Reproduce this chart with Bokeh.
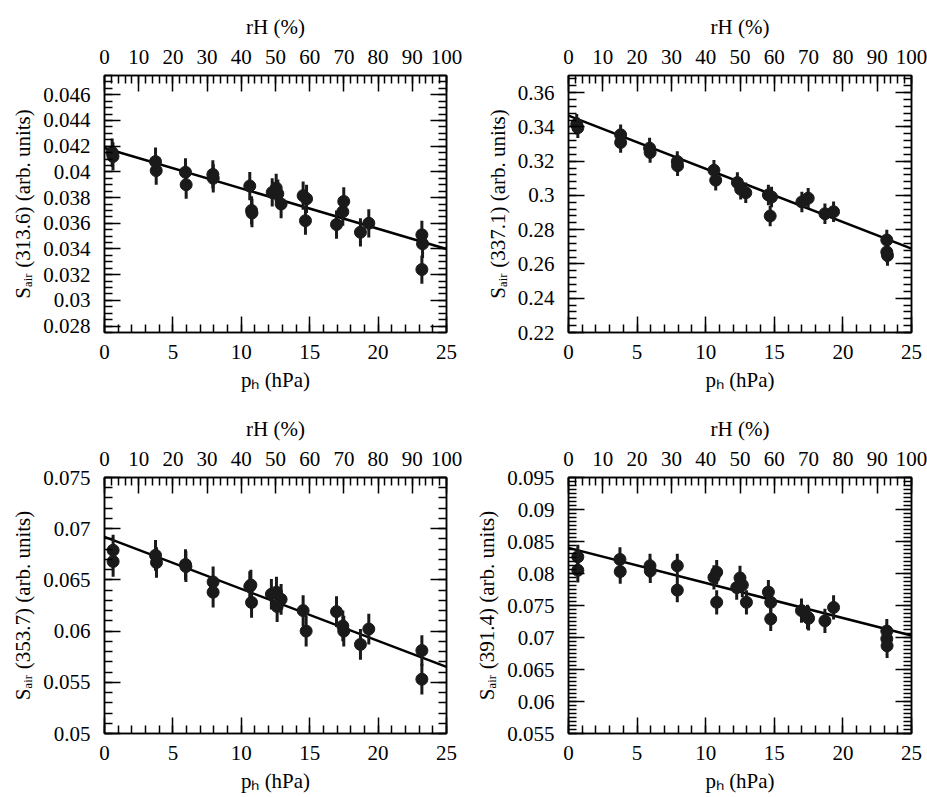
import numpy as np
from bokeh.plotting import figure
from bokeh.models import (Range1d, LinearAxis, SingleIntervalTicker,
                          CustomJSTickFormatter)
from bokeh.layouts import column, row
from bokeh.embed import file_html
from bokeh.resources import INLINE

FONT = "Liberation Serif"

# ---------------- data ----------------
fit_ph = [0, 25]

ph_1 = [0.56, 0.62, 3.73, 3.78, 5.92, 5.97, 7.92, 7.95, 10.62, 10.75, 10.78, 12.26, 12.55,
        12.67, 12.91, 14.52, 14.77, 14.69, 16.96, 17.42, 17.49, 18.71, 19.32, 23.2, 23.25, 23.2]
s_1 = [0.0415, 0.0412, 0.0408, 0.0401, 0.03997, 0.0390, 0.0398, 0.0395, 0.0389, 0.0370, 0.0368,
       0.0384, 0.03875, 0.0383, 0.0375, 0.03815, 0.0379, 0.0362, 0.0359, 0.0369, 0.0377, 0.0353,
       0.0360, 0.0351, 0.0344, 0.0324]
err_1 = 0.0011
fit_1 = [0.04186, 0.0340]

ph_2 = [0.6, 0.68, 3.8, 3.8, 5.91, 5.95, 7.93, 7.95, 10.6, 10.73, 12.31, 12.55, 12.92, 14.57,
        14.8, 14.7, 17.01, 17.47, 18.69, 19.32, 23.2, 23.2, 23.25]
s_2 = [0.3415, 0.3395, 0.3354, 0.3309, 0.3276, 0.3251, 0.3198, 0.3173, 0.3147, 0.3089, 0.3075,
       0.3036, 0.3016, 0.3003, 0.2991, 0.288, 0.2962, 0.2984, 0.2893, 0.2905, 0.274, 0.267, 0.265]
err_2 = 0.006
fit_2 = [0.3466, 0.2690]

ph_3 = [0.63, 0.63, 3.73, 3.8, 5.92, 5.95, 7.94, 7.94, 10.62, 10.7, 10.75, 12.2, 12.57, 12.91,
        12.62, 14.52, 14.74, 16.96, 17.42, 17.49, 18.71, 19.32, 23.2, 23.2]
s_3 = [0.0679, 0.0668, 0.0674, 0.0667, 0.0665, 0.0663, 0.0648, 0.0638, 0.06435, 0.0645, 0.0628,
       0.0636, 0.0638, 0.0631, 0.0624, 0.0620, 0.0600, 0.0619, 0.0605, 0.0600, 0.0587, 0.0602,
       0.0581, 0.0553]
err_3 = 0.0015
fit_3 = [0.0692, 0.0565]

ph_4 = [0.68, 0.68, 3.75, 3.77, 5.94, 5.96, 7.93, 7.93, 10.6, 10.8, 10.8, 12.26, 12.5, 12.67,
        12.97, 14.57, 14.74, 14.74, 16.98, 17.42, 17.5, 18.69, 19.32, 23.2, 23.2, 23.22]
s_4 = [0.0826, 0.0805, 0.0822, 0.0803, 0.0812, 0.0804, 0.0812, 0.0774, 0.0794, 0.0802, 0.0755,
       0.0778, 0.0793, 0.0782, 0.0755, 0.0771, 0.0755, 0.0729, 0.0742, 0.0732, 0.0730, 0.0726,
       0.0747, 0.0710, 0.0698, 0.0687]
err_4 = 0.0019
fit_4 = [0.0840, 0.0703]

wavelengths = ["313.6", "337.1", "353.7", "391.4"]
y_ranges = [(0.0275, 0.0475), (0.22, 0.37), (0.05, 0.0750001), (0.055, 0.0950001)]
y_major = [0.002, 0.02, 0.005, 0.005]
y_minor_n = [4, 5, 5, 8]

x_label = "p\u2095 (hPa)"
top_label = "rH (%)"
y_label_fmt = "S\u2090\u1d62\u1d63 ({}) (arb. units)"

FS = "21px"


def style_axis(ax, labels=True):
    ax.axis_line_color = "black"
    ax.axis_line_width = 1.5
    ax.major_tick_line_color = "black"
    ax.minor_tick_line_color = "black"
    ax.major_tick_line_width = 1.5
    ax.minor_tick_line_width = 1.5
    ax.major_tick_in = 16
    ax.major_tick_out = 0
    ax.minor_tick_in = 8
    ax.minor_tick_out = 0
    ax.major_label_text_font = FONT
    ax.major_label_text_font_size = FS
    ax.major_label_text_color = "black"
    ax.axis_label_text_font = FONT
    ax.axis_label_text_font_size = FS
    ax.axis_label_text_font_style = "normal"
    ax.axis_label_text_color = "black"
    if not labels:
        ax.formatter = CustomJSTickFormatter(code="return '';")
        ax.major_label_text_color = None
        ax.major_label_standoff = 0


def make_panel(idx, ph, s, err, fit, left_col, top_row):
    yr = y_ranges[idx]
    width = 464 if left_col else 463
    b_right = 18 if left_col else 16
    height = 402 if top_row else 395
    b_bottom = 70 if top_row else 64
    p = figure(width=width, height=height, x_range=Range1d(0, 25),
               y_range=Range1d(*yr), output_backend="svg", toolbar_location=None,
               tools="", x_axis_location=None, y_axis_location=None,
               min_border_left=104, min_border_right=b_right,
               min_border_top=75, min_border_bottom=b_bottom)
    p.grid.visible = False
    p.outline_line_color = "black"
    p.outline_line_width = 1.5
    p.background_fill_color = "white"
    p.border_fill_color = "white"
    p.extra_x_ranges = {"rh": Range1d(0, 100)}

    bx = LinearAxis(ticker=SingleIntervalTicker(interval=5, num_minor_ticks=5),
                    axis_label=x_label)
    style_axis(bx)
    bx.major_label_standoff = 12
    bx.axis_label_standoff = 6
    p.add_layout(bx, "below")

    tx = LinearAxis(x_range_name="rh",
                    ticker=SingleIntervalTicker(interval=10, num_minor_ticks=5),
                    axis_label=top_label)
    style_axis(tx)
    tx.major_label_standoff = 12
    tx.axis_label_standoff = 8
    p.add_layout(tx, "above")

    fmt = CustomJSTickFormatter(code="return String(Math.round(tick*1e6)/1e6);")
    ly = LinearAxis(ticker=SingleIntervalTicker(interval=y_major[idx],
                                                num_minor_ticks=y_minor_n[idx]),
                    formatter=fmt, axis_label=y_label_fmt.format(wavelengths[idx]))
    style_axis(ly)
    ly.major_label_standoff = 14
    ly.axis_label_standoff = 5
    p.add_layout(ly, "left")

    ry = LinearAxis(ticker=SingleIntervalTicker(interval=y_major[idx],
                                                num_minor_ticks=y_minor_n[idx]))
    style_axis(ry, labels=False)
    p.add_layout(ry, "right")

    x = np.array(ph, dtype=float)
    y = np.array(s, dtype=float)
    p.line(fit_ph, fit, line_color="black", line_width=2.5)
    p.segment(x0=x, y0=y - err, x1=x, y1=y + err, line_color="#1a1a1a", line_width=3)
    p.scatter(x, y, size=12, fill_color="#1a1a1a", line_color="#1a1a1a")
    return p


p1 = make_panel(0, ph_1, s_1, err_1, fit_1, True, True)
p2 = make_panel(1, ph_2, s_2, err_2, fit_2, False, True)
p3 = make_panel(2, ph_3, s_3, err_3, fit_3, True, False)
p4 = make_panel(3, ph_4, s_4, err_4, fit_4, False, False)

layout = column(row(p1, p2), row(p3, p4))
open("out.html", "w").write(file_html(layout, INLINE, title="S_air vs p_h"))
